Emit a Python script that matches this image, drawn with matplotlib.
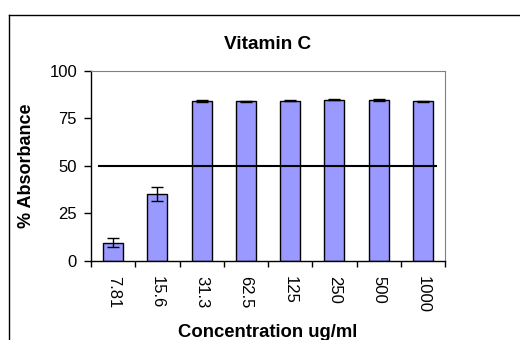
import numpy as np
import matplotlib.pyplot as plt
from matplotlib.lines import Line2D

plt.rcParams['font.family'] = ['Liberation Sans', 'DejaVu Sans']

concentrations = ['7.81', '15.6', '31.3', '62.5', '125', '250', '500', '1000']
absorbance = [9.6, 35.2, 84.2, 84.1, 84.4, 84.9, 84.7, 84.0]
errors = [2.3, 3.9, 0.3, 0.3, 0.4, 0.3, 0.4, 0.2]
reference_level = 50

fig = plt.figure(figsize=(5.2, 3.4), dpi=100)
ax = fig.add_axes([0.175, 0.2324, 0.681, 0.559])

x = np.arange(len(concentrations))
ax.bar(x, absorbance, width=0.45, color='#9999FF', edgecolor='black', linewidth=1,
       yerr=errors, capsize=4, error_kw=dict(elinewidth=1, capthick=1, ecolor='black'),
       zorder=2)
ax.plot([-0.32, len(x) - 0.7], [reference_level, reference_level], color='black', lw=1.5, zorder=3)

ax.set_xlim(-0.5, len(x) - 0.5)
ax.set_ylim(0, 100)
ax.set_yticks([0, 25, 50, 75, 100])
ax.set_xticks(x)
ax.set_xticklabels(concentrations, rotation=-90)
ax.set_xticks(np.arange(-0.5, len(x)), minor=True)
ax.tick_params(axis='x', which='major', length=0, pad=11, labelsize=12)
ax.tick_params(axis='x', which='minor', length=4, width=1)
ax.tick_params(axis='y', length=5, width=1, pad=5, labelsize=12)

for side in ['top', 'right']:
    ax.spines[side].set_color('#808080')
    ax.spines[side].set_linewidth(0.8)
for side in ['left', 'bottom']:
    ax.spines[side].set_linewidth(1)

ax.set_title('Vitamin C', fontsize=13.7, fontweight='bold', pad=16)
ax.set_ylabel('% Absorbance', fontsize=13, fontweight='bold', labelpad=10)
ax.set_xlabel('Concentration ug/ml', fontsize=13.3, fontweight='bold', labelpad=8)

# chart area border
fig.add_artist(Line2D([9 / 520, 1], [1 - 15 / 340, 1 - 15 / 340], color='black', lw=1))
fig.add_artist(Line2D([9 / 520, 9 / 520], [0, 1 - 15 / 340], color='black', lw=1))

fig.savefig('out.png', dpi=100)
